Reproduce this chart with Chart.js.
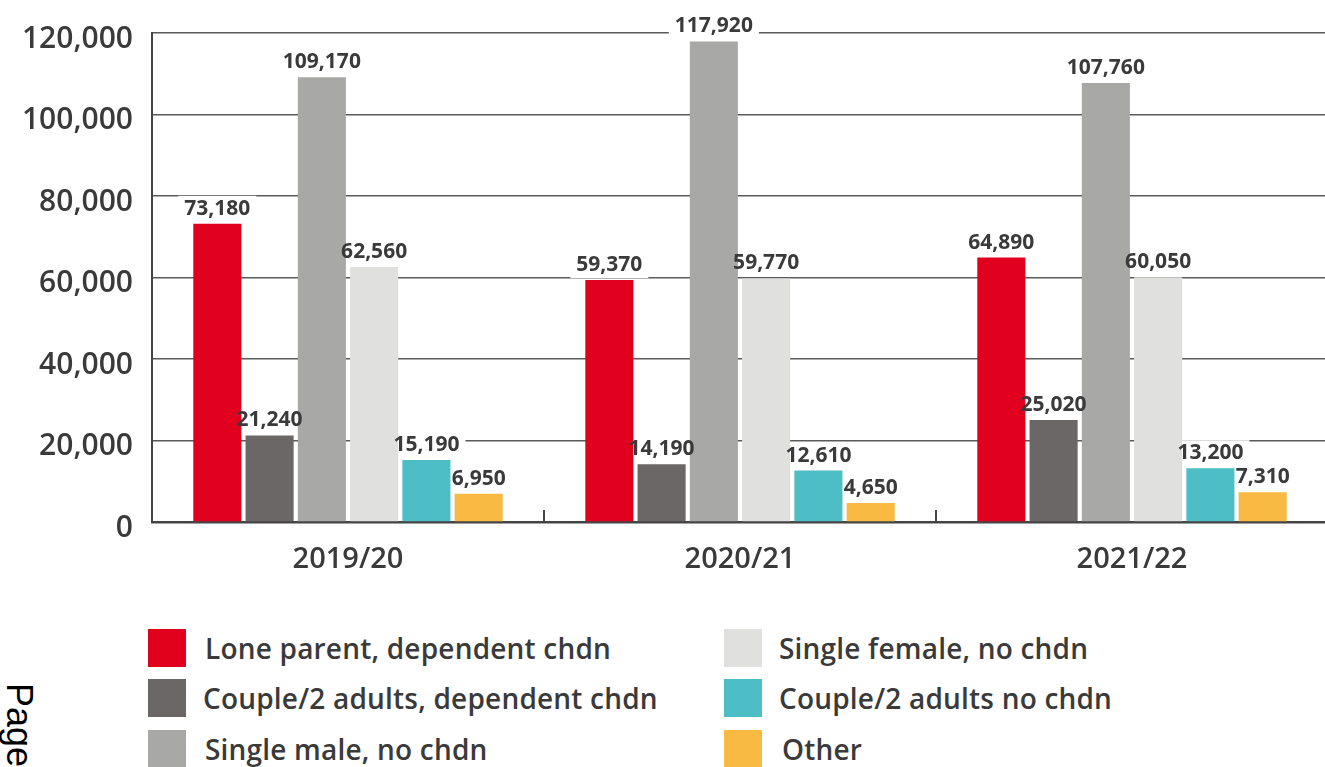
<!DOCTYPE html>
<html>
<head>
<meta charset="utf-8">
<script src="https://cdn.jsdelivr.net/npm/chart.js@4.4.0/dist/chart.umd.min.js"></script>
<style>
  html, body { margin: 0; padding: 0; background: #fff; overflow: hidden; width: 1325px; height: 767px; }
  #wrap { position: absolute; left: 0; top: -4px; width: 1340px; height: 600px; }
  .leg { position: absolute; font-family: "Open Sans", sans-serif; font-weight: 600; font-size: 28px; letter-spacing: 0.2px; color: #3a3a3a; white-space: nowrap; }
  .sw { position: absolute; width: 38px; height: 38px; }
  #page { position: absolute; left: 37px; top: 683px; line-height: 1; transform-origin: 0 0; transform: rotate(90deg); font-family: "Liberation Sans", Arial, sans-serif; font-size: 36px; color: #000; white-space: nowrap; }
</style>
</head>
<body>
<div id="wrap"><canvas id="c" width="1340" height="600"></canvas></div>
<div id="legend"></div>
<div id="page">Page</div>
<script>
const categories = ['2019/20', '2020/21', '2021/22'];
const seriesNames = ['Lone parent, dependent chdn', 'Couple/2 adults, dependent chdn', 'Single male, no chdn', 'Single female, no chdn', 'Couple/2 adults no chdn', 'Other'];
const loneParent = [73180, 59370, 64890];
const coupleDependent = [21240, 14190, 25020];
const singleMale = [109170, 117920, 107760];
const singleFemale = [62560, 59770, 60050];
const coupleNoChildren = [15190, 12610, 13200];
const other = [6950, 4650, 7310];
const yTicks = [0, 20000, 40000, 60000, 80000, 100000, 120000];

const colors = ['#e2001f', '#6b6766', '#a8a8a7', '#e0e0df', '#4dbec6', '#f9ba43'];
const seriesValues = [loneParent, coupleDependent, singleMale, singleFemale, coupleNoChildren, other];
const textColor = '#3a3a3a';
const fmt = v => v.toLocaleString('en-GB');

const labelFont = 'bold 21px "Open Sans"';
function labelBoxes(chart) {
  const out = [];
  const ctx = chart.ctx;
  ctx.save();
  ctx.font = labelFont;
  chart.data.datasets.forEach((ds, di) => {
    const meta = chart.getDatasetMeta(di);
    meta.data.forEach((bar, i) => {
      const txt = fmt(ds.data[i]);
      const w = ctx.measureText(txt).width;
      out.push({ txt, x: bar.x, base: bar.y - 9, w });
    });
  });
  ctx.restore();
  return out;
}
const labelPlugin = {
  id: 'vlabels',
  beforeDatasetsDraw(chart) {
    const ctx = chart.ctx;
    ctx.save();
    ctx.fillStyle = '#ffffff';
    labelBoxes(chart).forEach(b => {
      ctx.fillRect(b.x - b.w / 2 - 6, b.base - 19, b.w + 12, 26);
    });
    ctx.restore();
  },
  afterDatasetsDraw(chart) {
    const ctx = chart.ctx;
    ctx.save();
    ctx.font = labelFont;
    ctx.fillStyle = textColor;
    ctx.textAlign = 'center';
    ctx.textBaseline = 'alphabetic';
    labelBoxes(chart).forEach(b => ctx.fillText(b.txt, b.x, b.base));
    const xs = chart.scales.x;
    const bottom = chart.chartArea.bottom;
    ctx.strokeStyle = '#444';
    ctx.lineWidth = 2;
    for (let i = 1; i < categories.length; i++) {
      const px = (xs.getPixelForValue(i - 1) + xs.getPixelForValue(i)) / 2;
      ctx.beginPath();
      ctx.moveTo(px, bottom);
      ctx.lineTo(px, bottom - 12);
      ctx.stroke();
    }
    ctx.restore();
  }
};

new Chart(document.getElementById('c'), {
  type: 'bar',
  data: {
    labels: categories,
    datasets: seriesNames.map((n, i) => ({
      label: n,
      data: seriesValues[i],
      backgroundColor: colors[i],
      borderWidth: 0,
      categoryPercentage: 0.8,
      barPercentage: 0.92
    }))
  },
  options: {
    responsive: false,
    animation: false,
    layout: { padding: { top: 28, right: 12, left: 0, bottom: 0 } },
    plugins: { legend: { display: false }, tooltip: { enabled: false } },
    scales: {
      x: {
        grid: { display: false },
        border: { color: '#444', width: 2.5 },
        ticks: { color: textColor, font: { family: 'Open Sans', size: 29, weight: 600 }, padding: 12 },
        afterFit: s => { s.height = 74; }
      },
      y: {
        min: 0, max: 120000,
        afterBuildTicks: s => { s.ticks = yTicks.map(v => ({ value: v })); },
        grid: { color: '#5a5a5a', lineWidth: 1.5, drawTicks: false },
        border: { color: '#444', width: 2 },
        ticks: { color: textColor, font: { family: 'Open Sans', size: 30, weight: 600 }, padding: 19, labelOffset: 6, callback: v => fmt(v) },
        afterFit: s => { s.width = 152; }
      }
    }
  },
  plugins: [labelPlugin]
});

const legend = document.getElementById('legend');
const legPos = [
  { sx: 148, sy: 629, tx: 205 }, { sx: 148, sy: 679, tx: 203 }, { sx: 148, sy: 730, tx: 205 },
  { sx: 724, sy: 629, tx: 779 }, { sx: 724, sy: 679, tx: 779 }, { sx: 724, sy: 730, tx: 782 }
];
seriesNames.forEach((n, i) => {
  const p = legPos[i];
  const sw = document.createElement('div');
  sw.className = 'sw';
  sw.style.left = p.sx + 'px'; sw.style.top = p.sy + 'px'; sw.style.background = colors[i];
  legend.appendChild(sw);
  const t = document.createElement('div');
  t.className = 'leg';
  t.textContent = n;
  t.style.left = p.tx + 'px'; t.style.top = (p.sy + 19 - 20) + 'px'; t.style.lineHeight = '40px';
  legend.appendChild(t);
});
</script>
</body>
</html>
